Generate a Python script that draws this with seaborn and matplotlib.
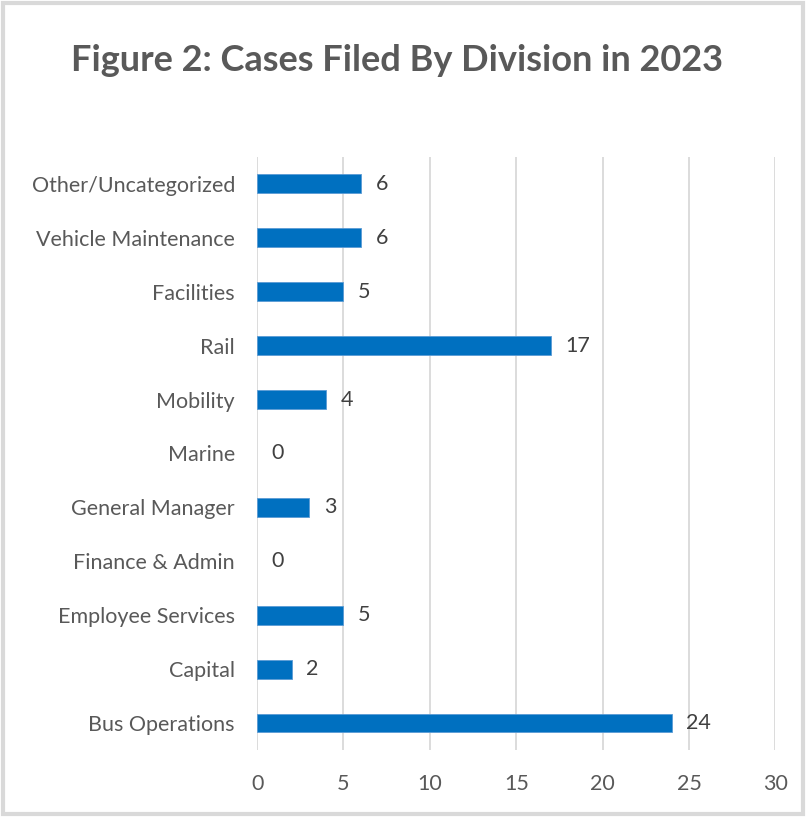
import matplotlib
matplotlib.use("Agg")
import matplotlib.pyplot as plt
from matplotlib.patches import Rectangle
import seaborn as sns
import pandas as pd

divisions = ["Other/Uncategorized", "Vehicle Maintenance", "Facilities", "Rail",
             "Mobility", "Marine", "General Manager", "Finance & Admin",
             "Employee Services", "Capital", "Bus Operations"]
cases = [6, 6, 5, 17, 4, 0, 3, 0, 5, 2, 24]
x_ticks = [0, 5, 10, 15, 20, 25, 30]

df = pd.DataFrame({"Division": divisions, "Cases": cases})

sns.set_theme(style="white")
plt.rcParams["font.family"] = ["Lato", "DejaVu Sans"]

fig = plt.figure(figsize=(8.06, 8.17), dpi=100)
ax = fig.add_axes([0.319, 0.082, 0.643, 0.726])

sns.barplot(data=df, x="Cases", y="Division", order=divisions, orient="h",
            color="#0070C0", saturation=1, width=0.35, ax=ax)
for p in ax.patches:
    if p.get_width() > 0:
        p.set_edgecolor("#5B9BD5")
        p.set_linewidth(0.6)
    else:
        p.set_linewidth(0)

for i, v in enumerate(cases):
    ax.text(v + 0.85, i, str(v), va="center", ha="left", fontsize=15.5, color="#404040")

ax.set_xlim(0, 30)
ax.set_ylim(len(divisions) - 0.5, -0.5)
ax.set_xticks(x_ticks)
ax.set_xticklabels([str(t) for t in x_ticks])
ax.xaxis.grid(True, color="#d9d9d9", linewidth=1.3)
ax.set_axisbelow(True)
for s in ax.spines.values():
    s.set_visible(False)
ax.set_xlabel("")
ax.set_ylabel("")
ax.tick_params(axis="y", length=0, pad=16, labelsize=15.5, labelcolor="#595959")
ax.tick_params(axis="x", length=0, pad=17, labelsize=15.5, labelcolor="#595959")

fig.text(0.4926, 0.926, "Figure 2: Cases Filed By Division in 2023", ha="center",
         va="center", fontsize=26, fontweight="bold", color="#595959")

fig.patches.append(Rectangle((0.004, 0.004), 0.992, 0.992, transform=fig.transFigure,
                             fill=False, edgecolor="#d9d9d9", linewidth=3))

fig.savefig("out.png", dpi=100)
